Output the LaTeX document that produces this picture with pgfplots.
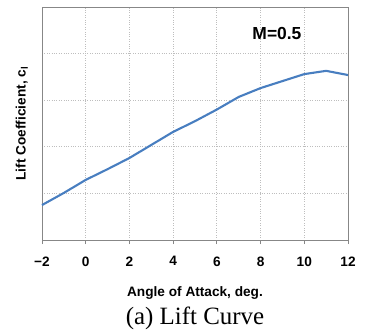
\documentclass[border=0pt]{standalone}
\usepackage{fontspec}
\setmainfont{Liberation Sans}
\newfontfamily\captionserif{Liberation Serif}
\usepackage{pgfplots}
\pgfplotsset{compat=1.18}
\definecolor{liftblue}{RGB}{72,126,192}
\definecolor{gridgray}{RGB}{190,190,190}
\definecolor{framegray}{RGB}{135,135,135}
\begin{document}
\begin{tikzpicture}
\useasboundingbox (-42bp,-95bp) rectangle (327bp,240bp);
\begin{axis}[
  at={(0,0)}, anchor=south west,
  scale only axis, width=306bp, height=233bp,
  xmin=-2, xmax=12, ymin=0, ymax=5,
  xtick={-2,0,...,12},
  xticklabels={−2,0,2,4,6,8,10,12},
  ytick={0,1,...,5},
  yticklabels={},
  grid=major,
  major grid style={gridgray, dotted, line width=0.9pt},
  axis line style={framegray, line width=0.9pt},
  tick style={framegray, line width=0.9pt},
  tick align=outside, major tick length=4bp,
  xtick pos=bottom, ytick pos=left,
  ytick style={draw=none},
  tick label style={font=\fontsize{13.7}{15}\selectfont\bfseries},
  xticklabel style={yshift=-9bp},
  /pgf/number format/assume math mode=true,
  xlabel={Angle of Attack, deg.},
  xlabel style={font=\fontsize{13.7}{15}\selectfont\bfseries, at={(axis description cs:0.5,0)}, anchor=center, yshift=-53bp},
  ylabel={Lift Coefficient, c$_{\mathbf{l}}$},
  ylabel style={font=\fontsize{13.7}{15}\selectfont\bfseries, at={(axis description cs:-0.066,0.5)}, anchor=center},
  clip=false,
]
\addplot[liftblue, line width=2.1bp] coordinates {
  (-2,0.75) (-1,1.01) (0,1.29) (1,1.52) (2,1.76) (3,2.04) (4,2.32)
  (5,2.55) (6,2.80) (7,3.07) (8,3.26) (9,3.41) (10,3.56) (11,3.63) (12,3.54)
};
\node[font=\fontsize{17.5}{18}\selectfont\bfseries] at (axis cs:8.75,4.44) {M=0.5};
\node[font=\captionserif\fontsize{25}{26}\selectfont] at (axis description cs:0.5,0) [yshift=-78bp] {(a) Lift Curve};
\end{axis}
\end{tikzpicture}
\end{document}
